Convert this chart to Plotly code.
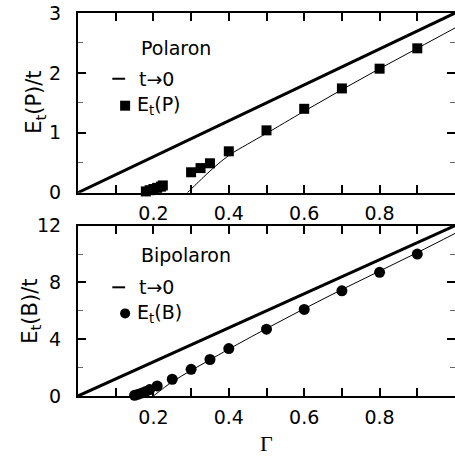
import plotly.graph_objects as go

# ---- data ----
gamma_lim = [0.0, 1.0]
polaron_lim = [0.0, 3.0]
bipolaron_lim = [0.0, 12.0]

gamma_p = [0.18, 0.19, 0.20, 0.21, 0.22, 0.225, 0.30, 0.325, 0.35, 0.40, 0.50, 0.60, 0.70, 0.80, 0.90]
ep = [0.02, 0.04, 0.06, 0.08, 0.10, 0.12, 0.34, 0.41, 0.49, 0.69, 1.04, 1.40, 1.74, 2.07, 2.41]

gamma_p_fit = [0.29, 0.30, 0.32, 0.35, 0.40, 0.45, 0.50, 0.60, 0.70, 0.80, 0.90, 1.00]
ep_fit = [0.0, 0.06, 0.18, 0.36, 0.62, 0.81, 0.99, 1.36, 1.72, 2.07, 2.41, 2.75]

gamma_b = [0.15, 0.16, 0.17, 0.18, 0.19, 0.21, 0.25, 0.30, 0.35, 0.40, 0.50, 0.60, 0.70, 0.80, 0.90]
eb = [0.05, 0.13, 0.22, 0.32, 0.45, 0.71, 1.18, 1.88, 2.57, 3.34, 4.71, 6.10, 7.41, 8.71, 10.0]

gamma_b_fit = [0.20, 0.25, 0.30, 0.35, 0.40, 0.50, 0.60, 0.70, 0.80, 0.90, 1.00]
eb_fit = [0.0, 1.0, 1.8, 2.55, 3.3, 4.75, 6.15, 7.5, 8.8, 10.1, 11.45]

x_tickvals = [0.2, 0.4, 0.6, 0.8]
x_minorvals = [0.1, 0.3, 0.5, 0.7, 0.9]
yp_tickvals = [0, 1, 2, 3]
yb_tickvals = [0, 4, 8, 12]

SANS = "DejaVu Sans, Liberation Sans, Arial, sans-serif"
SERIF = "Liberation Serif, Times New Roman, serif"
FS = 19

fig = go.Figure()

# top panel
fig.add_trace(go.Scatter(x=gamma_lim, y=polaron_lim, mode="lines",
                         line=dict(color="black", width=3), xaxis="x", yaxis="y", showlegend=False))
fig.add_trace(go.Scatter(x=gamma_p_fit, y=ep_fit, mode="lines", line_shape="spline",
                         line=dict(color="black", width=1), xaxis="x", yaxis="y", showlegend=False))
fig.add_trace(go.Scatter(x=gamma_p, y=ep, mode="markers", cliponaxis=False,
                         marker=dict(symbol="square", size=10, color="black"),
                         xaxis="x", yaxis="y", showlegend=False))

# bottom panel
fig.add_trace(go.Scatter(x=gamma_lim, y=bipolaron_lim, mode="lines",
                         line=dict(color="black", width=3), xaxis="x2", yaxis="y2", showlegend=False))
fig.add_trace(go.Scatter(x=gamma_b_fit, y=eb_fit, mode="lines", line_shape="spline",
                         line=dict(color="black", width=1), xaxis="x2", yaxis="y2", showlegend=False))
fig.add_trace(go.Scatter(x=gamma_b, y=eb, mode="markers", cliponaxis=False,
                         marker=dict(symbol="circle", size=11, color="black"),
                         xaxis="x2", yaxis="y2", showlegend=False))

common_x = dict(range=[0, 1], tickvals=x_tickvals, ticktext=[f"{v:.1f}" for v in x_tickvals],
                ticks="inside", ticklen=8, tickwidth=1.5, tickcolor="black",
                minor=dict(tickvals=x_minorvals, ticks="inside", ticklen=8, tickwidth=1.5, tickcolor="black"),
                showline=True, linewidth=2, linecolor="black", mirror="ticks", showgrid=False,
                zeroline=False, tickfont=dict(family=SANS, size=FS, color="black"), ticklabelstandoff=3)

ycommon = dict(ticks="inside", ticklen=8, tickwidth=1.5, tickcolor="black",
               showline=True, linewidth=2, linecolor="black", mirror="ticks",
               showgrid=False, zeroline=False, ticklabelstandoff=11,
               tickfont=dict(family=SANS, size=FS, color="black"))

fig.update_layout(
    width=455, height=457,
    margin=dict(l=78, r=0, t=13, b=61, autoexpand=False),
    paper_bgcolor="white", plot_bgcolor="white",
    showlegend=False,
    xaxis=dict(domain=[0, 1], anchor="y", **common_x),
    xaxis2=dict(domain=[0, 1], anchor="y2", **common_x),
    yaxis=dict(domain=[0.531, 1], anchor="x", range=[0, 3], tickvals=yp_tickvals,
               minor=dict(dtick=0.5, ticks="inside", ticklen=5, tickwidth=1, tickcolor="#666"),
               **ycommon),
    yaxis2=dict(domain=[0, 0.4448], anchor="x2", range=[0, 12], tickvals=yb_tickvals,
                minor=dict(dtick=2, ticks="inside", ticklen=5, tickwidth=1, tickcolor="#666"),
                **ycommon),
)

# axis titles as annotations
fig.add_annotation(x=0.5, y=-0.123, xref="paper", yref="paper", text="Γ", showarrow=False,
                   xanchor="center", yanchor="middle",
                   font=dict(family=SERIF, size=22, color="black"))
ytitle = dict(xref="paper", textangle=-90, xanchor="center", yanchor="middle", showarrow=False,
              font=dict(family=SANS, size=21, color="black"))
fig.add_annotation(x=-0.114, y=0.5, yref="y domain", text="E<sub>t</sub>(P)/t", **ytitle)
fig.add_annotation(x=-0.125, y=0.5, yref="y2 domain", text="E<sub>t</sub>(B)/t", **ytitle)

# in-plot legends
def legend(xr, yr, title, label, symbol, ys):
    txt = dict(xref=xr, yref=yr, xanchor="left", yanchor="middle", showarrow=False,
               font=dict(family=SANS, size=FS, color="black"))
    fig.add_annotation(x=0.162, y=ys[0], text=title, **txt)
    fig.add_annotation(x=0.157, y=ys[1], text="t→0", **txt)
    fig.add_annotation(x=0.150, y=ys[2], text=label, **txt)
    fig.add_shape(type="line", xref=xr, yref=yr, x0=0.091, x1=0.125, y0=ys[1], y1=ys[1],
                  line=dict(color="black", width=2))
    fig.add_shape(type=symbol, xref=xr, yref=yr, xsizemode="pixel", ysizemode="pixel",
                  xanchor=0.125, yanchor=ys[2], x0=-5, x1=5, y0=-5, y1=5,
                  fillcolor="black", line=dict(color="black", width=0))

legend("x domain", "y domain", "Polaron", "E<sub>t</sub>(P)", "rect", [0.807, 0.634, 0.484])
legend("x2 domain", "y2 domain", "Bipolaron", "E<sub>t</sub>(B)", "circle", [0.828, 0.638, 0.485])

fig.write_html("out.html", config={"displayModeBar": False},
               post_script="document.body.style.margin='0';document.body.style.overflow='hidden';")
